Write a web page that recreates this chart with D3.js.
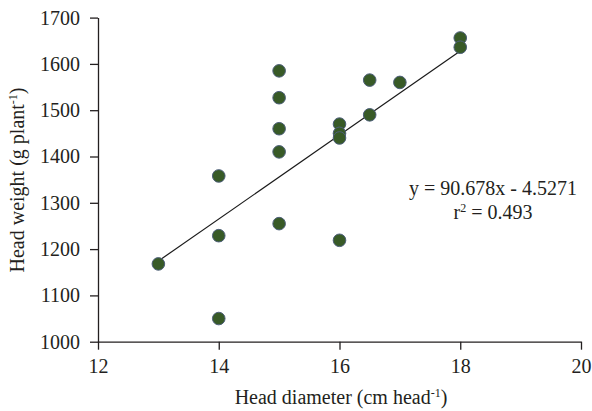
<!DOCTYPE html>
<html>
<head>
<meta charset="utf-8">
<script src="https://cdn.jsdelivr.net/npm/d3@7"></script>
<style>
  body { margin: 0; background: #fff; }
  svg text { font-family: "Liberation Serif", "DejaVu Serif", serif; fill: #231f20; }
</style>
</head>
<body>
<div id="chart"></div>
<script>
// head diameter (cm head-1) vs head weight (g plant-1)
var diameter = [13, 14, 14, 14, 15, 15, 15, 15, 15, 16, 16, 16, 16, 16.5, 16.5, 17, 18, 18];
var weight   = [1168, 1358, 1229, 1050, 1585, 1527, 1460, 1410, 1255, 1470, 1450, 1440, 1219, 1565, 1490, 1560, 1656, 1636];
var xTicks = [12, 14, 16, 18, 20];
var yTicks = [1000, 1100, 1200, 1300, 1400, 1500, 1600, 1700];
var slope = 90.678, intercept = -4.5271, rSquared = "0.493";
var fitRange = [13, 18];

var width = 592, height = 411;
var margin = {top: 17.6, right: 11, bottom: 69.3, left: 98};
var fs = 20;

var svg = d3.select("#chart").append("svg")
	.attr("width", width).attr("height", height);

var x = d3.scaleLinear().domain([12, 20])
	.range([margin.left, width - margin.right]);
var y = d3.scaleLinear().domain([1000, 1700])
	.range([height - margin.bottom, margin.top]);

var xAxis = svg.append("g")
	.attr("transform", `translate(0,${y(1000)})`)
	.call(d3.axisBottom(x).tickValues(xTicks).tickFormat(d3.format("d"))
		.tickSize(8).tickSizeOuter(0).tickPadding(9));
var yAxis = svg.append("g")
	.attr("transform", `translate(${x(12)},0)`)
	.call(d3.axisLeft(y).tickValues(yTicks).tickFormat(d3.format("d"))
		.tickSize(8).tickSizeOuter(0).tickPadding(10));

[xAxis, yAxis].forEach(g => {
	g.selectAll("path").attr("stroke", "#231f20").attr("stroke-width", 1.3);
	g.selectAll("line").attr("stroke", "#231f20").attr("stroke-width", 1.3);
	g.selectAll("text").attr("font-size", fs).attr("font-family", null).attr("fill", "#231f20");
});

// fitted line
var line = d3.line().x(d => x(d)).y(d => y(slope * d + intercept));
svg.append("path")
	.datum(fitRange)
	.attr("d", line)
	.attr("fill", "none")
	.attr("stroke", "#1a1a1a")
	.attr("stroke-width", 1.2);

svg.append("g").selectAll("circle")
	.data(diameter.map((d, i) => ({x: d, y: weight[i]})))
	.join("circle")
	.attr("cx", d => x(d.x))
	.attr("cy", d => y(d.y))
	.attr("r", 6.3)
	.attr("fill", "#385a27")
	.attr("stroke", "#4d5f7a")
	.attr("stroke-width", 1);

// equation
var eq = svg.append("g").attr("font-size", fs).attr("text-anchor", "middle");
eq.append("text").attr("x", 493).attr("y", 195)
	.text(`y = ${slope}x - ${Math.abs(intercept)}`);
var r2 = eq.append("text").attr("x", 493).attr("y", 219);
r2.append("tspan").text("r");
r2.append("tspan").attr("dy", -7).attr("font-size", 12).text("2");
r2.append("tspan").attr("dy", 7).text(" = " + rSquared);

// axis titles
var xt = svg.append("text").attr("x", 341).attr("y", 404)
	.attr("text-anchor", "middle").attr("font-size", fs);
xt.append("tspan").text("Head diameter (cm head");
xt.append("tspan").attr("dy", -7).attr("font-size", 12).text("-1");
xt.append("tspan").attr("dy", 7).text(")");

var yt = svg.append("text")
	.attr("transform", `translate(23.5,180) rotate(-90)`)
	.attr("text-anchor", "middle").attr("font-size", fs);
yt.append("tspan").text("Head weight (g plant");
yt.append("tspan").attr("dy", -7).attr("font-size", 12).text("-1");
yt.append("tspan").attr("dy", 7).text(")");
</script>
</body>
</html>
